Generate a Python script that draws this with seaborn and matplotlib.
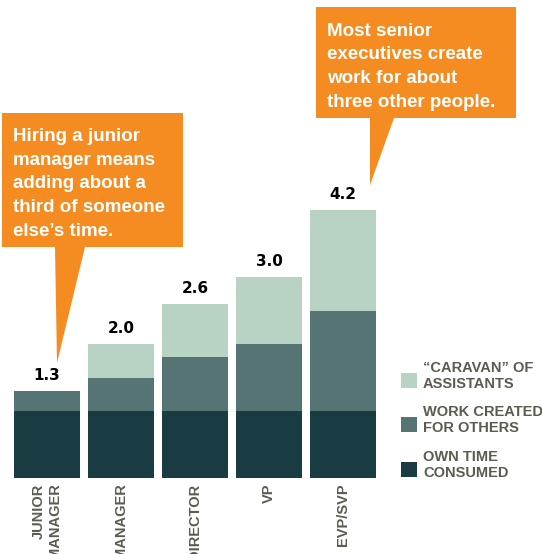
import matplotlib
matplotlib.use("Agg")
import matplotlib.pyplot as plt
import matplotlib.transforms as mtransforms
from matplotlib.patches import Polygon, Rectangle
import seaborn as sns
import pandas as pd

# ---- data ----
categories = ["JUNIOR\nMANAGER", "MANAGER", "DIRECTOR", "VP", "EVP/SVP"]
own_time = [1.0, 1.0, 1.0, 1.0, 1.0]
work_created = [0.3, 0.5, 0.8, 1.0, 1.5]
caravan = [0.0, 0.5, 0.8, 1.0, 1.5]
total_labels = ["1.3", "2.0", "2.6", "3.0", "4.2"]

legend_labels = ["\u201cCARAVAN\u201d OF\nASSISTANTS", "WORK CREATED\nFOR OTHERS", "OWN TIME\nCONSUMED"]
colors = ["#B8D3C3", "#577475", "#183C41"]

callout_left = "Hiring a junior\nmanager means\nadding about a\nthird of someone\nelse\u2019s time."
callout_right = "Most senior\nexecutives create\nwork for about\nthree other people."
orange = "#F58C22"
label_gray = "#5B5B50"

# ---- style ----
sns.set_theme(style="white")
plt.rcParams["font.family"] = ["Liberation Sans", "DejaVu Sans"]

W, H = 542, 554
fig = plt.figure(figsize=(W / 100, H / 100), dpi=100)
fig.patch.set_facecolor("white")
ax = fig.add_axes([10 / W, 76 / H, 370 / W, 402 / H])

df = pd.DataFrame({"role": categories, "own": own_time,
                   "work": work_created, "caravan": caravan})
df["lvl1"] = df["own"]
df["lvl2"] = df["own"] + df["work"]
df["lvl3"] = df["lvl2"] + df["caravan"]

for col, color in zip(["lvl3", "lvl2", "lvl1"], colors):
    sns.barplot(data=df, x="role", y=col, color=color, width=66 / 74,
                saturation=1, ax=ax, linewidth=0, errorbar=None)

ax.set_xlim(-0.5, 4.5)
ax.set_ylim(0, 6)
ax.set_xlabel("")
ax.set_ylabel("")
ax.set_yticks([])
for s in ax.spines.values():
    s.set_visible(False)
ax.set_facecolor("none")
ax.set_xticks(range(len(categories)))
ax.set_xticklabels(categories, rotation=90, fontsize=10.5, fontweight="bold",
                   color=label_gray, va="top", ha="center",
                   multialignment="right", linespacing=1.15)
ax.tick_params(axis="x", length=0, pad=4)

# value labels
for i, lab in enumerate(total_labels):
    ax.annotate(lab, (i, df["lvl3"][i]), xytext=(0, 8), textcoords="offset pixels",
                ha="center", va="bottom", fontsize=11, fontweight="heavy",
                family="DejaVu Sans", color="black")

# pixel transform (top-left origin)
px = mtransforms.Affine2D().scale(1 / W, -1 / H).translate(0, 1) + fig.transFigure

# callouts
left_poly = [(2, 113), (183, 113), (183, 247), (85, 247), (57, 363), (55, 247), (2, 247)]
right_poly = [(316, 7), (516, 7), (516, 118), (394, 118), (370, 185), (370, 118), (316, 118)]
for poly in (left_poly, right_poly):
    fig.add_artist(Polygon(poly, closed=True, transform=px, facecolor=orange,
                           edgecolor="none", zorder=5))
# multi-line text with va="baseline" anchors the last line's baseline
fig.text(13, 236, callout_left, transform=px, ha="left", va="baseline",
         color="white", fontsize=13.5, fontweight="bold", linespacing=1.52, zorder=6)
fig.text(327, 107, callout_right, transform=px, ha="left", va="baseline",
         color="white", fontsize=13.5, fontweight="bold", linespacing=1.52, zorder=6)

# legend
swatch_tops = [373, 417, 462]
text_baselines = [388, 432, 477]
for lab, color, st, tb in zip(legend_labels, colors, swatch_tops, text_baselines):
    fig.add_artist(Rectangle((401, st), 16, 15, transform=px, facecolor=color,
                             edgecolor="none"))
    fig.text(423, tb, lab, transform=px, ha="left", va="baseline",
             color=label_gray, fontsize=10.5, fontweight="bold", linespacing=1.2)

fig.savefig("out.png", dpi=100)
